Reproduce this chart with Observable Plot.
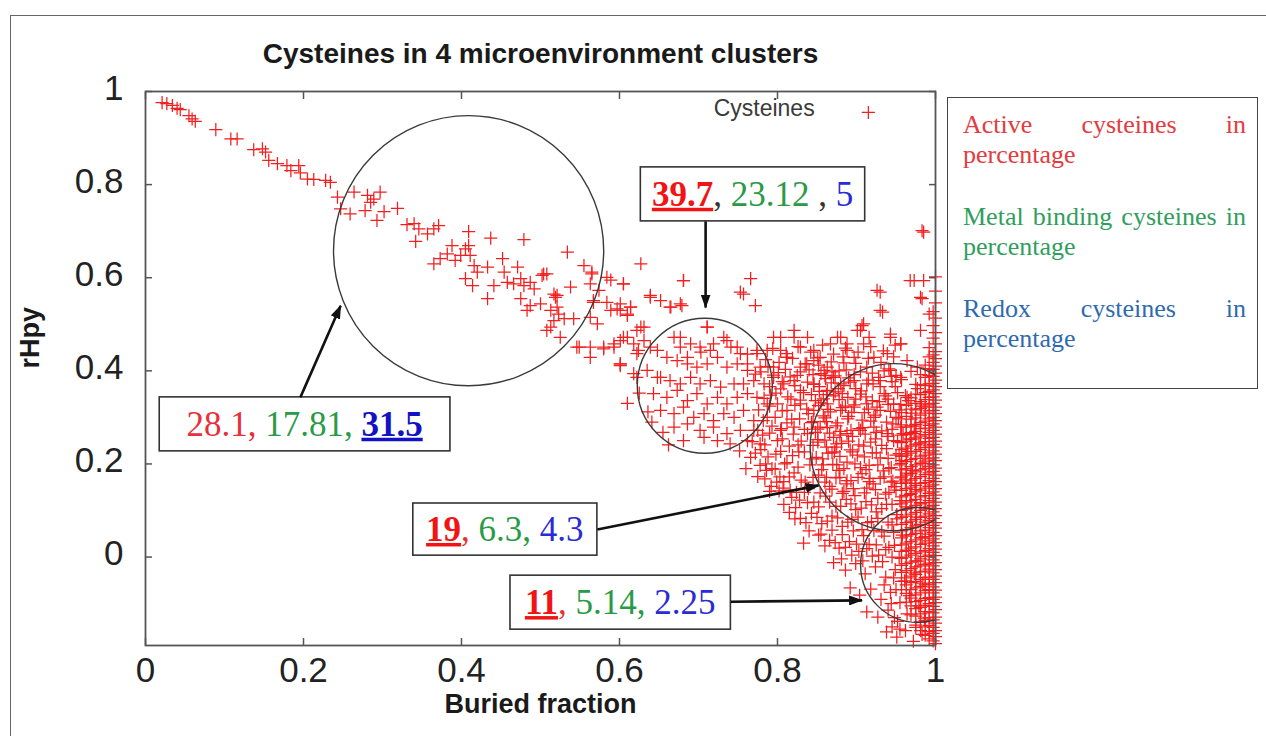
<!DOCTYPE html>
<html>
<head>
<meta charset="utf-8">
<script src="https://cdn.jsdelivr.net/npm/d3@7"></script>
<script src="https://cdn.jsdelivr.net/npm/@observablehq/plot@0.6"></script>
<style>
  body { margin: 0; background: #fff; }
  #wrap { position: relative; width: 1266px; height: 736px; overflow: hidden; background: #fff; }
  #border { position: absolute; left: 10px; top: 15px; width: 1300px; height: 800px;
            border-left: 1.5px solid #666; border-top: 1.5px solid #666; }
  #chart { position: absolute; left: 0; top: 0; }
  #legend { position: absolute; left: 947px; top: 97px; width: 311px; height: 292px; box-sizing: border-box;
            border: 1.5px solid #444; padding: 12px 11px 0 15px; background: #fff;
            font-family: "Liberation Serif", "Times New Roman", serif; font-size: 26px; line-height: 30px; }
  #legend p { margin: 0 0 32px 0; text-align: justify; }
</style>
</head>
<body>
<div id="wrap">
  <div id="border"></div>
  <div id="chart"></div>
  <div id="legend"></div>
</div>
<script>
// ---------------- Data ----------------
const xTicks = [0, 0.2, 0.4, 0.6, 0.8, 1];
const yTicks = [0, 0.2, 0.4, 0.6, 0.8, 1];

const titleText = "Cysteines in 4 microenvironment clusters";
const xLabel = "Buried fraction";
const yLabel = "rHpy";
const seriesName = "Cysteines";

// upper-left trail of exposed cysteines
const trailPts = [
[0.021,0.976],[0.027,0.974],[0.034,0.970],[0.040,0.964],[0.044,0.961],[0.055,0.948],[0.059,0.941],[0.063,0.936],
[0.089,0.918],[0.108,0.898],[0.116,0.898],[0.137,0.875],[0.148,0.877],[0.152,0.870],[0.156,0.852],[0.167,0.845],
[0.179,0.841],[0.184,0.830],[0.194,0.841],[0.196,0.825],[0.205,0.812],[0.213,0.811],[0.228,0.809],[0.234,0.805]
];

// diagonal band through the big circle
const diagPts = [
[0.243,0.773],[0.247,0.748],[0.259,0.737],[0.264,0.784],[0.281,0.777],[0.285,0.762],[0.289,0.769],[0.297,0.784],
[0.278,0.744],[0.293,0.723],[0.302,0.742],[0.319,0.749],[0.331,0.714],[0.340,0.716],[0.346,0.705],[0.357,0.694],
[0.365,0.705],[0.371,0.712],[0.342,0.678],[0.409,0.699],[0.437,0.685],[0.479,0.682],[0.365,0.630],[0.373,0.641],
[0.382,0.651],[0.388,0.669],[0.392,0.637],[0.399,0.648],[0.405,0.662],[0.409,0.669],[0.411,0.648],[0.416,0.626],
[0.420,0.612],[0.405,0.598],[0.414,0.583],[0.433,0.623],[0.433,0.555],[0.441,0.583],[0.452,0.641],[0.454,0.612],
[0.458,0.590],[0.466,0.587],[0.471,0.623],[0.475,0.598],[0.479,0.583],[0.487,0.590],[0.492,0.576],[0.502,0.605],
[0.508,0.608],[0.521,0.562],[0.475,0.555],[0.487,0.540]
];

// middle region, x 0.48 - 1
const midPts = [
[0.534,0.655],[0.555,0.626],[0.565,0.608],[0.589,0.595],[0.605,0.587],[0.574,0.573],[0.567,0.547],[0.584,0.547],
[0.601,0.530],[0.614,0.537],[0.610,0.522],[0.563,0.515],[0.572,0.501],[0.517,0.565],[0.521,0.537],[0.523,0.522],
[0.530,0.512],[0.542,0.512],[0.500,0.544],[0.483,0.530],[0.513,0.494],[0.525,0.472],[0.546,0.451],[0.563,0.451],
[0.580,0.447],[0.593,0.451],[0.601,0.411],[0.610,0.472],[0.618,0.394],[0.622,0.487],[0.624,0.444],[0.565,0.612],
[0.504,0.608],[0.519,0.558],[0.513,0.530],[0.538,0.580],[0.563,0.587],[0.627,0.630],[0.681,0.594],[0.766,0.598],
[0.753,0.569],[0.772,0.540],[0.639,0.562],[0.652,0.551],[0.665,0.537],[0.679,0.540],[0.567,0.551],[0.597,0.533],
[0.610,0.519],[0.517,0.508],[0.508,0.487],[0.549,0.451],[0.601,0.465],[0.631,0.494],[0.563,0.429],[0.601,0.415],
[0.622,0.437],[0.639,0.451],[0.648,0.386],[0.669,0.472],[0.677,0.451],[0.686,0.429],[0.703,0.440],[0.711,0.494],
[0.719,0.458],[0.732,0.472],[0.741,0.451],[0.753,0.437],[0.762,0.415],[0.774,0.437],[0.787,0.444],[0.795,0.408],
[0.804,0.472],[0.821,0.487],[0.838,0.472],[0.812,0.429],[0.829,0.408],[0.846,0.422],[0.863,0.408],[0.876,0.472],
[0.888,0.458],[0.901,0.487],[0.907,0.497],[0.916,0.472],[0.930,0.569],[0.933,0.526],[0.943,0.472],[0.956,0.458],
[0.968,0.594],[0.985,0.698],[0.985,0.594],[0.983,0.555],[0.992,0.522],[0.981,0.487],[0.922,0.429],[0.939,0.437],
[0.964,0.422],[0.977,0.408]
];

// around the second circle
const circle2Pts = [
[0.711,0.494],[0.677,0.472],[0.690,0.458],[0.702,0.451],[0.715,0.444],[0.736,0.465],[0.749,0.451],[0.762,0.436],
[0.774,0.444],[0.648,0.444],[0.660,0.429],[0.673,0.422],[0.686,0.415],[0.698,0.408],[0.711,0.415],[0.724,0.429],
[0.736,0.408],[0.749,0.415],[0.762,0.401],[0.778,0.408],[0.635,0.401],[0.652,0.386],[0.664,0.379],[0.677,0.372],
[0.690,0.386],[0.702,0.372],[0.715,0.379],[0.728,0.365],[0.745,0.372],[0.757,0.372],[0.770,0.379],[0.783,0.372],
[0.643,0.351],[0.660,0.343],[0.673,0.358],[0.686,0.336],[0.698,0.351],[0.711,0.329],[0.724,0.343],[0.736,0.329],
[0.749,0.343],[0.762,0.351],[0.774,0.343],[0.787,0.329],[0.652,0.315],[0.669,0.308],[0.681,0.322],[0.694,0.300],
[0.707,0.308],[0.719,0.293],[0.732,0.308],[0.745,0.300],[0.757,0.315],[0.770,0.293],[0.787,0.300],[0.669,0.279],
[0.686,0.286],[0.702,0.272],[0.719,0.279],[0.736,0.265],[0.753,0.272],[0.770,0.272],[0.707,0.257],[0.724,0.250],
[0.740,0.243],[0.762,0.250],[0.681,0.250],[0.778,0.243],
[0.584,0.601],[0.605,0.587],[0.589,0.530],[0.601,0.544],[0.614,0.537],[0.639,0.558],[0.664,0.537],[0.677,0.544],
[0.681,0.594],[0.757,0.565],[0.580,0.451],[0.593,0.458],[0.605,0.472],[0.618,0.458],[0.627,0.494],[0.631,0.465],
[0.601,0.415],[0.622,0.386],[0.795,0.472],[0.804,0.444],[0.812,0.429],[0.821,0.472],[0.829,0.451],[0.837,0.415],
[0.846,0.444],[0.854,0.429],[0.867,0.458],[0.880,0.472],[0.888,0.444],[0.897,0.429],[0.909,0.458],[0.926,0.573],
[0.930,0.530],[0.909,0.501],[0.905,0.487],[0.943,0.479],[0.956,0.458],[0.973,0.594],[0.981,0.558],[0.983,0.701],
[0.795,0.386],[0.808,0.372],[0.821,0.379],[0.829,0.358],[0.846,0.372],[0.863,0.358],[0.871,0.386],[0.880,0.372],
[0.897,0.379],[0.913,0.372],[0.930,0.379],[0.943,0.401],[0.956,0.386],[0.800,0.329],[0.812,0.315],[0.829,0.329],
[0.846,0.315],[0.863,0.329],[0.880,0.315],[0.897,0.322],[0.913,0.329],[0.930,0.315],[0.947,0.329],[0.964,0.343],
[0.981,0.329],[0.804,0.272],[0.821,0.279],[0.838,0.265],[0.854,0.279],[0.871,0.257],[0.888,0.265],[0.905,0.272],
[0.922,0.279],[0.939,0.265],[0.956,0.279],[0.973,0.265],
[0.610,0.330],[0.625,0.352],[0.636,0.312],[0.641,0.290],[0.655,0.268],[0.662,0.241]
];

// between circle 2 and circle 3
const betweenPts = [
[0.781,0.262],[0.793,0.281],[0.806,0.254],[0.818,0.296],[0.826,0.241],[0.839,0.308],[0.851,0.247],[0.862,0.291],
[0.874,0.236],[0.798,0.221],[0.812,0.203],[0.827,0.226],[0.844,0.211],[0.858,0.198],[0.869,0.224],[0.786,0.186],
[0.803,0.172],[0.821,0.181],[0.835,0.161],[0.852,0.176],[0.866,0.152],[0.879,0.171],[0.791,0.348],[0.804,0.361],
[0.817,0.339],[0.833,0.353],[0.848,0.336],[0.862,0.349],[0.878,0.338],[0.772,0.393],[0.788,0.409],[0.801,0.396],
[0.816,0.387],[0.829,0.398],[0.845,0.392],[0.859,0.401],[0.873,0.389],[0.887,0.402],
[0.752,0.228],[0.766,0.214],[0.779,0.231],[0.785,0.200],[0.797,0.189],[0.808,0.162],[0.792,0.152],[0.816,0.144],
[0.828,0.122],[0.775,0.173],[0.760,0.190],[0.833,0.030],[0.892,-0.066]
];

// dense third circle
const circle3Pts = [
[0.852,0.412],[0.869,0.398],[0.884,0.417],[0.897,0.392],[0.913,0.408],[0.928,0.386],[0.941,0.404],[0.957,0.381],[0.969,0.399],
[0.846,0.371],[0.861,0.383],[0.877,0.362],[0.892,0.376],[0.906,0.357],[0.921,0.372],[0.935,0.351],[0.949,0.366],[0.962,0.347],[0.977,0.362],
[0.855,0.331],[0.871,0.346],[0.886,0.324],[0.899,0.339],[0.915,0.318],[0.929,0.334],[0.943,0.313],[0.956,0.328],[0.970,0.309],[0.982,0.324],
[0.843,0.289],[0.858,0.303],[0.874,0.282],[0.889,0.297],[0.903,0.276],[0.918,0.292],[0.932,0.271],[0.946,0.286],[0.959,0.265],[0.974,0.281],
[0.851,0.252],[0.866,0.266],[0.881,0.244],[0.895,0.259],[0.909,0.238],[0.924,0.254],[0.938,0.233],[0.952,0.248],[0.965,0.227],[0.979,0.243],
[0.857,0.211],[0.872,0.226],[0.888,0.204],[0.901,0.219],[0.916,0.197],[0.930,0.213],[0.944,0.192],[0.957,0.207],[0.971,0.186],[0.984,0.201],
[0.862,0.171],[0.878,0.186],[0.893,0.164],[0.907,0.179],[0.921,0.157],[0.935,0.172],[0.948,0.151],[0.962,0.166],[0.975,0.145],
[0.884,0.141],[0.898,0.132],[0.913,0.148],[0.927,0.126],[0.941,0.139],[0.955,0.121],[0.968,0.134],[0.981,0.117],
[0.860,0.390],[0.890,0.385],[0.920,0.395],[0.950,0.390],[0.853,0.356],[0.882,0.351],[0.912,0.344],[0.940,0.339],
[0.966,0.336],[0.864,0.317],[0.894,0.311],[0.924,0.305],[0.950,0.300],[0.851,0.275],[0.880,0.270],[0.911,0.264],
[0.940,0.259],[0.968,0.254],[0.862,0.236],[0.892,0.230],[0.920,0.224],[0.950,0.219],[0.875,0.198],[0.905,0.192],
[0.934,0.185],[0.963,0.180],[0.887,0.157],[0.917,0.169],[0.946,0.163],[0.974,0.158]
];

// the crowded right-hand cloud (x 0.77 - 0.96)
const crowdPts = [
[0.794,0.448],[0.811,0.437],[0.826,0.452],[0.842,0.440],[0.857,0.455],[0.871,0.436],[0.886,0.449],[0.902,0.440],[0.918,0.452],[0.934,0.443],[0.949,0.455],
[0.785,0.424],[0.802,0.418],[0.819,0.427],[0.835,0.415],[0.851,0.428],[0.868,0.419],[0.883,0.430],[0.899,0.416],[0.915,0.427],[0.931,0.418],[0.947,0.430],
[0.779,0.398],[0.795,0.391],[0.810,0.403],[0.825,0.390],[0.840,0.402],[0.855,0.394],[0.878,0.400],[0.905,0.398],[0.935,0.400],[0.944,0.388],
[0.790,0.366],[0.806,0.377],[0.822,0.368],[0.838,0.376],[0.853,0.366],[0.868,0.374],[0.884,0.368],[0.899,0.362],[0.915,0.380],[0.930,0.366],[0.945,0.377],
[0.783,0.341],[0.798,0.352],[0.813,0.344],[0.829,0.337],[0.843,0.349],[0.858,0.340],[0.873,0.355],[0.889,0.343],[0.905,0.350],[0.920,0.336],[0.937,0.346],[0.952,0.353],
[0.776,0.316],[0.790,0.324],[0.806,0.314],[0.822,0.326],[0.837,0.318],[0.852,0.325],[0.867,0.312],[0.882,0.321],[0.897,0.327],[0.910,0.310],[0.926,0.322],[0.940,0.328],[0.954,0.316],
[0.782,0.293],[0.797,0.300],[0.812,0.288],[0.828,0.297],[0.845,0.291],[0.860,0.299],[0.876,0.288],[0.890,0.302],[0.907,0.294],[0.922,0.300],[0.938,0.290],[0.953,0.297],
[0.775,0.272],[0.790,0.266],[0.805,0.276],[0.820,0.264],[0.834,0.274],[0.848,0.268],[0.863,0.278],[0.879,0.262],[0.893,0.272],[0.908,0.278],[0.925,0.268],[0.945,0.274],
[0.768,0.248],[0.784,0.241],[0.800,0.250],[0.815,0.238],[0.830,0.249],[0.845,0.240],[0.860,0.251],[0.875,0.243],[0.890,0.249],[0.903,0.241],[0.918,0.247],[0.932,0.240],[0.947,0.250],
[0.772,0.223],[0.788,0.215],[0.804,0.227],[0.819,0.218],[0.834,0.226],[0.849,0.214],[0.864,0.223],[0.879,0.216],[0.895,0.226],[0.910,0.215],[0.925,0.224],[0.940,0.212],[0.954,0.222],
[0.778,0.197],[0.793,0.190],[0.809,0.200],[0.826,0.193],[0.841,0.198],[0.856,0.188],[0.870,0.199],[0.884,0.190],[0.898,0.200],[0.912,0.188],[0.927,0.198],[0.941,0.190],[0.955,0.198],
[0.784,0.168],[0.799,0.161],[0.815,0.172],[0.830,0.165],[0.845,0.171],[0.860,0.161],[0.874,0.170],[0.888,0.164],[0.902,0.171],[0.916,0.162],[0.930,0.169],[0.944,0.161],[0.956,0.170],
[0.790,0.141],[0.807,0.148],[0.824,0.139],[0.839,0.147],[0.854,0.138],[0.869,0.146],[0.882,0.137],[0.896,0.147],[0.910,0.138],[0.924,0.145],[0.937,0.135],[0.950,0.144],
[0.808,0.113],[0.823,0.106],[0.838,0.117],[0.852,0.108],[0.866,0.118],[0.880,0.109],[0.893,0.114],[0.906,0.105],[0.919,0.112],[0.932,0.104],[0.945,0.113],
[0.822,0.082],[0.836,0.074],[0.850,0.085],[0.863,0.077],[0.876,0.084],[0.889,0.075],[0.902,0.086],[0.914,0.074],[0.927,0.083],[0.940,0.075],[0.951,0.082],
[0.840,0.056],[0.855,0.049],[0.869,0.058],[0.882,0.048],[0.896,0.056],[0.909,0.046],[0.922,0.057],[0.935,0.045],[0.947,0.053],
[0.860,0.024],[0.873,0.031],[0.886,0.021],[0.900,0.028],[0.913,0.018],[0.925,0.026],[0.937,0.016],[0.948,0.025],
[0.881,-0.004],[0.894,0.004],[0.908,-0.008],[0.920,0.002],[0.933,-0.010],[0.945,0.000],
[0.935,-0.060],[0.947,-0.045],[0.944,-0.100],[0.950,-0.070],[0.948,-0.130],[0.955,-0.155],[0.945,-0.150]
];

// lower region (circle 4 and below)
const lowerPts = [
[0.802,0.142],[0.818,0.128],[0.834,0.139],[0.846,0.118],[0.861,0.131],[0.874,0.109],[0.887,0.124],[0.899,0.102],
[0.912,0.119],[0.925,0.097],[0.938,0.113],[0.951,0.091],[0.963,0.108],[0.976,0.086],
[0.815,0.096],[0.829,0.083],[0.843,0.094],[0.856,0.072],[0.869,0.088],[0.882,0.066],[0.894,0.081],[0.907,0.059],
[0.919,0.076],[0.932,0.054],[0.945,0.069],[0.958,0.047],[0.971,0.063],[0.983,0.041],
[0.852,0.047],[0.866,0.036],[0.878,0.019],[0.891,0.033],[0.903,0.012],[0.916,0.027],[0.928,0.004],[0.941,0.021],
[0.954,-0.002],[0.966,0.014],[0.978,-0.009],
[0.871,-0.012],[0.886,-0.028],[0.899,-0.014],[0.911,-0.036],[0.924,-0.021],[0.937,-0.043],[0.949,-0.027],[0.961,-0.051],
[0.973,-0.034],[0.984,-0.056],
[0.904,-0.082],[0.918,-0.069],[0.931,-0.091],[0.943,-0.076],[0.955,-0.098],[0.967,-0.083],[0.979,-0.105],
[0.913,-0.118],[0.927,-0.129],[0.940,-0.114],[0.952,-0.138],[0.964,-0.122],[0.975,-0.146],[0.986,-0.131],
[0.938,-0.161],[0.951,-0.172],[0.962,-0.158],[0.972,-0.181],[0.983,-0.166]
];

// nearly solid band of fully buried cysteines (buried fraction close to 1)
const edgeCols = [
 {x: 1.000, ys: [-0.186,-0.171,-0.158,-0.142,-0.129,-0.113,-0.098,-0.086,-0.071,-0.055,-0.041,-0.027,-0.012,0.003,0.017,0.031,0.046,0.062,0.074,0.089,0.104,0.118,0.133,0.147,0.162,0.176,0.191,0.207,0.221,0.236,0.249,0.264,0.279,0.293,0.308,0.322,0.337,0.351,0.366,0.380,0.395,0.410,0.426,0.441,0.458,0.482,0.513,0.546,0.571,0.602]},
 {x: 0.997, ys: [-0.180,-0.164,-0.151,-0.135,-0.120,-0.106,-0.091,-0.077,-0.064,-0.048,-0.034,-0.019,-0.006,0.010,0.024,0.039,0.053,0.068,0.083,0.097,0.111,0.126,0.140,0.155,0.169,0.184,0.198,0.213,0.228,0.242,0.257,0.272,0.286,0.300,0.315,0.330,0.344,0.359,0.373,0.388,0.403,0.418,0.434,0.470,0.497,0.527]},
 {x: 0.992, ys: [-0.176,-0.160,-0.147,-0.130,-0.118,-0.100,-0.087,-0.070,-0.058,-0.043,-0.026,-0.013,0.004,0.018,0.035,0.049,0.063,0.079,0.093,0.108,0.121,0.137,0.152,0.164,0.181,0.194,0.211,0.224,0.239,0.255,0.268,0.283,0.297,0.314,0.327,0.343,0.356,0.372,0.390,0.405,0.430,0.450]},
 {x: 0.987, ys: [-0.168,-0.150,-0.136,-0.117,-0.104,-0.089,-0.072,-0.060,-0.044,-0.030,-0.016,0.001,0.014,0.030,0.044,0.058,0.075,0.088,0.103,0.117,0.132,0.148,0.160,0.177,0.190,0.206,0.219,0.235,0.248,0.263,0.277,0.292,0.309,0.322,0.338,0.353,0.368,0.386,0.412]},
 {x: 0.981, ys: [-0.158,-0.139,-0.122,-0.108,-0.093,-0.077,-0.063,-0.048,-0.032,-0.019,-0.004,0.011,0.027,0.041,0.056,0.070,0.085,0.100,0.114,0.129,0.144,0.158,0.173,0.187,0.202,0.217,0.231,0.245,0.260,0.276,0.289,0.305,0.319,0.334,0.349,0.370,0.392]},
 {x: 0.975, ys: [-0.151,-0.127,-0.111,-0.096,-0.081,-0.066,-0.052,-0.037,-0.021,-0.008,0.008,0.022,0.037,0.051,0.067,0.081,0.096,0.111,0.124,0.140,0.154,0.169,0.183,0.198,0.212,0.227,0.241,0.256,0.270,0.285,0.299,0.316,0.330,0.350,0.371]},
 {x: 0.969, ys: [-0.124,-0.105,-0.088,-0.070,-0.055,-0.041,-0.025,-0.011,0.004,0.019,0.033,0.048,0.063,0.077,0.092,0.107,0.121,0.136,0.150,0.165,0.179,0.194,0.209,0.223,0.238,0.253,0.267,0.282,0.296,0.318,0.342]},
 {x: 0.963, ys: [-0.097,-0.078,-0.060,-0.045,-0.029,-0.014,0.000,0.015,0.030,0.045,0.059,0.074,0.088,0.103,0.118,0.132,0.147,0.161,0.176,0.190,0.205,0.219,0.234,0.249,0.263,0.279,0.302,0.326]},
 {x: 0.957, ys: [-0.070,-0.052,-0.033,-0.018,-0.003,0.012,0.026,0.041,0.056,0.070,0.085,0.100,0.114,0.129,0.143,0.158,0.172,0.187,0.201,0.216,0.231,0.246,0.262,0.284,0.310]}
];

// cluster annotation values (percentages)
const clusterActive = ["28.1", "39.7", "19", "11"];
const clusterMetal  = ["17.81", "23.12", "6.3", "5.14"];
const clusterRedox  = ["31.5", "5", "4.3", "2.25"];
const clusterHighlight = ["redox", "active", "active", "active"];

const legendEntries = [
  {text: "Active cysteines in percentage", key: "active"},
  {text: "Metal binding cysteines in percentage", key: "metal"},
  {text: "Redox cysteines in percentage", key: "redox"}
];

// ---------------- Layout / styling ----------------
const W = 1266, H = 736, mL = 145, mR = 331, mT = 91, mB = 91;
const xDomain = [0, 1], yDomain = [-0.19, 1];
const pxPerX = (W - mL - mR) / (xDomain[1] - xDomain[0]);

const colors = {
  active: "#e8303a", activeBold: "#f01414",
  metal: "#2a9a46",
  redox: "#2b2bd6", redoxBold: "#1212c4",
  legendActive: "#e53a40", legendMetal: "#2f9e5c", legendRedox: "#2f6aae"
};

// circles (centre in data units, radius in x-units)
const circles = [
  {x: 0.409, y: 0.658, rx: 0.171},
  {x: 0.708, y: 0.368, rx: 0.0855},
  {x: 0.947, y: 0.236, rx: 0.1057},
  {x: 0.978, y: -0.017, rx: 0.0728}
];

// annotation boxes: [x1, x2, y1, y2], arrow from -> to (data units)
const annLayout = [
  {box: [0.018, 0.386, 0.227, 0.343], from: [0.196, 0.343], to: [0.247, 0.540], sep: [", ", ", "], sepColor: ["active", "metal"]},
  {box: [0.627, 0.911, 0.721, 0.837], from: [0.709, 0.721], to: [0.709, 0.536], sep: [", ", " , "], sepColor: ["dark", "dark"]},
  {box: [0.339, 0.572, 0.003, 0.115], from: [0.572, 0.059], to: [0.852, 0.154], sep: [", ", ", "], sepColor: ["active", "metal"]},
  {box: [0.462, 0.741, -0.156, -0.040], from: [0.741, -0.096], to: [0.907, -0.093], sep: [", ", ", "], sepColor: ["active", "metal"]}
];

const legendPos = {textX: 0.847, textY: 0.963, markX: 0.915, markY: 0.955};

// ---------------- Build data table ----------------
const points = [...trailPts, ...diagPts, ...midPts, ...circle2Pts, ...betweenPts, ...circle3Pts, ...crowdPts, ...lowerPts]
  .map(([x, y]) => ({x, y}));
for (const col of edgeCols) for (const y of col.ys) points.push({x: col.x, y});

const annotations = annLayout.map((a, i) => ({
  x1: a.box[0], x2: a.box[1], y1: a.box[2], y2: a.box[3],
  fx: a.from[0], fy: a.from[1], tx: a.to[0], ty: a.to[1],
  active: clusterActive[i], metal: clusterMetal[i], redox: clusterRedox[i],
  hl: clusterHighlight[i], sep: a.sep, sepColor: a.sepColor
}));

const pointRed = "#f41e1e";

const plot = Plot.plot({
  width: W, height: H,
  marginLeft: mL, marginRight: mR, marginTop: mT, marginBottom: mB,
  x: {domain: xDomain},
  y: {domain: yDomain},
  style: {fontFamily: "'Liberation Sans', Arial, sans-serif", background: "transparent", overflow: "visible"},
  marks: [
    Plot.dot(points, {x: "x", y: "y", symbol: "plus", r: 4.3, stroke: pointRed, strokeWidth: 1.25}),
    ...circles.map(c => Plot.dot([c], {x: "x", y: "y", r: c.rx * pxPerX, stroke: "#3a3a3a", strokeWidth: 1.4, fill: "none", clip: true})),
    Plot.frame({stroke: "#555", strokeWidth: 1.8}),
    // inward ticks on all four sides
    Plot.axisX({anchor: "bottom", ticks: xTicks, tickSize: -7, fill: "none", stroke: "#555", strokeWidth: 1.5}),
    Plot.axisX({anchor: "top", ticks: xTicks, tickSize: -7, fill: "none", stroke: "#555", strokeWidth: 1.5}),
    Plot.axisY({anchor: "left", ticks: yTicks, tickSize: -7, fill: "none", stroke: "#555", strokeWidth: 1.5}),
    Plot.axisY({anchor: "right", ticks: yTicks, tickSize: -7, fill: "none", stroke: "#555", strokeWidth: 1.5}),
    // tick labels
    Plot.axisX({anchor: "bottom", ticks: xTicks, tickSize: 0, tickPadding: 12, fontSize: 35, fill: "#222", tickFormat: d => String(d), label: null}),
    Plot.axisY({anchor: "left", ticks: yTicks, tickSize: 0, tickPadding: 22, fontSize: 35, fill: "#222", tickFormat: d => String(d), label: null, dy: -3}),
    // axis titles and chart title
    Plot.text([xLabel], {frameAnchor: "bottom", dy: 67, fontSize: 27, fontWeight: "bold", fill: "#1a1a1a", text: d => d}),
    Plot.text([yLabel], {frameAnchor: "left", dx: -115, rotate: -90, fontSize: 27, fontWeight: "bold", fill: "#1a1a1a", text: d => d}),
    Plot.text([titleText], {frameAnchor: "top", dy: -48, fontSize: 28, fontWeight: "bold", fill: "#1a1a1a", text: d => d}),
    // in-plot series legend
    Plot.text([seriesName], {x: () => legendPos.textX, y: () => legendPos.textY, text: d => d, textAnchor: "end", fontSize: 23, fill: "#3a3a3a"}),
    Plot.dot([seriesName], {x: () => legendPos.markX, y: () => legendPos.markY, symbol: "plus", r: 4.3, stroke: pointRed, strokeWidth: 1.25}),
    // annotation boxes and arrows
    Plot.rect(annotations, {x1: "x1", x2: "x2", y1: "y1", y2: "y2", fill: "white", stroke: "#333", strokeWidth: 1.6}),
    Plot.link(annotations, {x1: "fx", y1: "fy", x2: "tx", y2: "ty", stroke: "#111", strokeWidth: 2.6})
  ]
});

document.getElementById("chart").appendChild(plot);

// arrowheads (filled) for the links
const svg = d3.select(plot);
const defs = svg.append("defs");
defs.append("marker")
  .attr("id", "ahead").attr("viewBox", "0 0 14 10").attr("refX", 13).attr("refY", 5)
  .attr("markerWidth", 14).attr("markerHeight", 10).attr("markerUnits", "userSpaceOnUse").attr("orient", "auto")
  .append("path").attr("d", "M0,0L14,5L0,10Z").attr("fill", "#111");
svg.selectAll("g[aria-label=link] path").attr("marker-end", "url(#ahead)");

// rich, multi-coloured annotation text placed with the plot's scales
const sx = plot.scale("x"), sy = plot.scale("y");
const tg = svg.append("g").attr("font-family", "'Liberation Serif', 'Times New Roman', serif").attr("font-size", 35);
const sepFill = k => k === "dark" ? "#333" : (k === "metal" ? colors.metal : colors.active);
for (const a of annotations) {
  const cx = (sx.apply(a.x1) + sx.apply(a.x2)) / 2;
  const cy = (sy.apply(a.y1) + sy.apply(a.y2)) / 2;
  const t = tg.append("text").attr("x", cx).attr("y", cy).attr("dy", "0.34em").attr("text-anchor", "middle");
  const parts = [
    {s: a.active, fill: a.hl === "active" ? colors.activeBold : colors.active, bold: a.hl === "active"},
    {s: a.sep[0], fill: sepFill(a.sepColor[0])},
    {s: a.metal, fill: colors.metal, bold: a.hl === "metal"},
    {s: a.sep[1], fill: sepFill(a.sepColor[1])},
    {s: a.redox, fill: a.hl === "redox" ? colors.redoxBold : colors.redox, bold: a.hl === "redox"}
  ];
  for (const p of parts) {
    const ts = t.append("tspan").text(p.s).attr("fill", p.fill).style("white-space", "pre");
    if (p.bold) ts.attr("font-weight", "bold").style("text-decoration", "underline");
  }
  t.attr("xml:space", "preserve");
}

// legend box on the right
const legendColor = {active: colors.legendActive, metal: colors.legendMetal, redox: colors.legendRedox};
const lg = d3.select("#legend");
for (const e of legendEntries) {
  lg.append("p").style("color", legendColor[e.key]).text(e.text);
}
</script>
</body>
</html>
